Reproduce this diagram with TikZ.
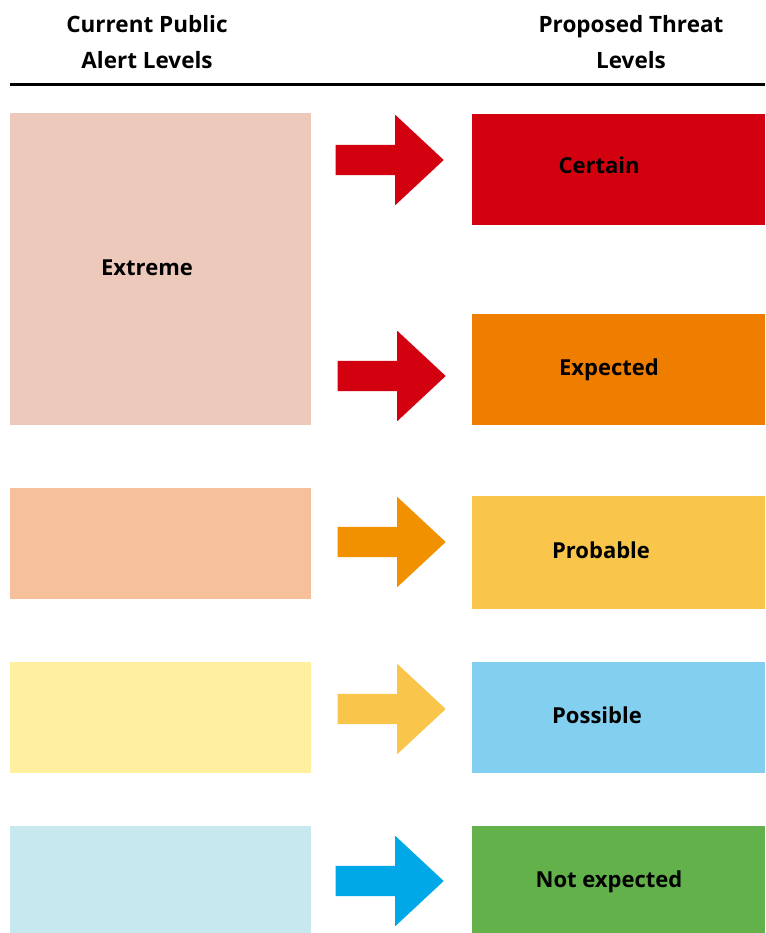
\documentclass[tikz,border=0pt]{standalone}
\usepackage{fontspec}
\setmainfont{Open Sans}
\usetikzlibrary{shapes.arrows}
\definecolor{extremebg}{RGB}{236,201,186}
\definecolor{severebg}{RGB}{246,192,154}
\definecolor{moderatebg}{RGB}{254,240,158}
\definecolor{minorbg}{RGB}{199,232,238}
\definecolor{certainred}{RGB}{211,0,15}
\definecolor{expectedorange}{RGB}{239,125,0}
\definecolor{probableyellow}{RGB}{249,197,75}
\definecolor{possibleblue}{RGB}{130,207,240}
\definecolor{notexpgreen}{RGB}{98,177,75}
\definecolor{arroworange}{RGB}{242,145,0}
\definecolor{arrowblue}{RGB}{0,168,232}
\tikzset{
  lbl/.style={font=\fontsize{22}{26}\selectfont\bfseries, inner sep=0pt, anchor=base},
  hdr/.style={font=\fontsize{22.5}{36}\selectfont\bfseries, inner sep=0pt, anchor=base},
  bigarrow/.style={single arrow, fill=#1, draw=none, inner xsep=0pt, inner ysep=15pt,
    minimum height=108pt, single arrow head extend=30pt, single arrow tip angle=86,
    anchor=tip}
}

\begin{document}
\begin{tikzpicture}[x=1pt,y=-1pt]
  \useasboundingbox (0,0) rectangle (765,933);

  \node[hdr] (curhdr) at (147,33) {Current Public};
  \node[hdr] (curhdr2) at (147,69) {Alert Levels};
  \node[hdr] (prophdr) at (631,33) {Proposed Threat};
  \node[hdr] (prophdr2) at (631,69) {Levels};
  \draw [line width=3pt] (10,85) -- (765,85);

  % current levels
  \fill [extremebg] (10,113) rectangle (311,425);
  \node[lbl] (extreme) at (147,275) {Extreme};
  \fill [severebg] (10,488) rectangle (311,599);
  \fill [moderatebg] (10,662) rectangle (311,773);
  \fill [minorbg] (10,826) rectangle (311,933);

  % proposed levels
  \foreach \ya/\yb/\c/\xt/\yt/\t [count=\i] in {
      114/225/certainred/599/174/Certain,
      314/425/expectedorange/609/375/Expected,
      496/609/probableyellow/601/558/Probable,
      662/773/possibleblue/597/723/Possible,
      826/933/notexpgreen/609/887/Not expected} {
    \fill [\c] (472,\ya) rectangle (765,\yb);
    \node[lbl] (prop\i) at (\xt,\yt) {\t};
  }

  % arrows
  \node[bigarrow=certainred] (arr1) at (444,160) {};
  \node[bigarrow=certainred] (arr2) at (446,376) {};
  \node[bigarrow=arroworange] (arr3) at (446,542) {};
  \node[bigarrow=probableyellow] (arr4) at (446,709) {};
  \node[bigarrow=arrowblue] (arr5) at (444,881) {};
\end{tikzpicture}
\end{document}
